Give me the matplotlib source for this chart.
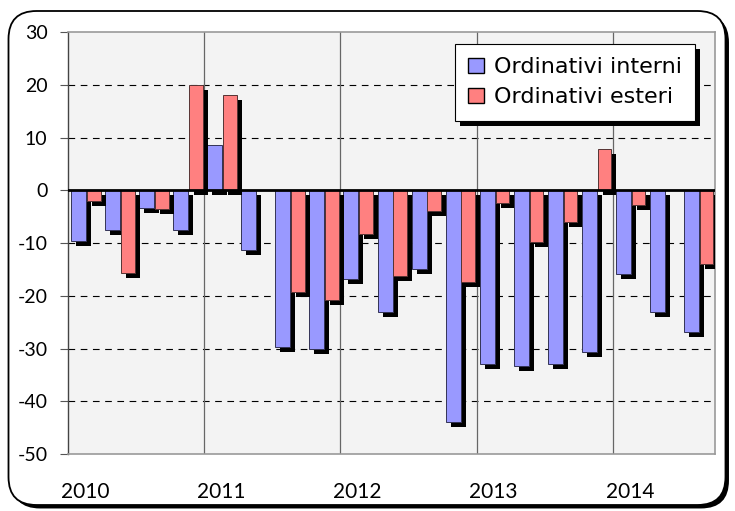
import matplotlib
matplotlib.use("Agg")
import matplotlib.pyplot as plt
import matplotlib.patheffects as pe
from matplotlib.patches import FancyBboxPatch
import numpy as np

# Data (quarterly, 2010Q1 - 2014Q3)
quarters = ["2010Q1", "2010Q2", "2010Q3", "2010Q4",
            "2011Q1", "2011Q2", "2011Q3", "2011Q4",
            "2012Q1", "2012Q2", "2012Q3", "2012Q4",
            "2013Q1", "2013Q2", "2013Q3", "2013Q4",
            "2014Q1", "2014Q2", "2014Q3"]
interni = [-9.7, -7.5, -3.3, -7.5,
           8.5, -11.3, -29.8, -30.1,
           -16.9, -23.1, -15.0, -44.0,
           -32.9, -33.3, -32.9, -30.7,
           -15.8, -23.1, -26.9]
esteri = [-2.1, -15.7, -3.6, 20.0,
          18.1, 0.0, -19.2, -20.8,
          -8.2, -16.3, -4.0, -17.4,
          -2.5, -9.8, -6.0, 7.8,
          -2.8, 0.0, -13.9]
year_labels = ["2010", "2011", "2012", "2013", "2014"]
y_ticks = [30, 20, 10, 0, -10, -20, -30, -40, -50]

W, H = 735, 511
fig = plt.figure(figsize=(W / 100, H / 100), dpi=100)
fig.patch.set_facecolor("white")

# outer rounded frame with shadow
frame = FancyBboxPatch((0.085, 0.06), 7.17, 4.94,
                       boxstyle="round,pad=0,rounding_size=0.28",
                       transform=fig.dpi_scale_trans, facecolor="white",
                       edgecolor="black", linewidth=1.3, zorder=-5)
frame.set_path_effects([pe.SimplePatchShadow(offset=(2.5, -2.5), shadow_rgbFace="black", alpha=1.0),
                        pe.Normal()])
fig.patches.append(frame)

ax = fig.add_axes([68 / W, 1 - 454 / H, (715 - 68) / W, (454 - 32) / H])
ax.set_zorder(1)
ax.set_facecolor("#F3F3F3")

x = np.arange(len(quarters))
shadow = [pe.SimplePatchShadow(offset=(3.6, -3.6), shadow_rgbFace="black", alpha=1.0), pe.Normal()]
b1 = ax.bar(x - 0.19, interni, width=0.44, color="#9999FF", edgecolor="#333355",
            linewidth=0.7, zorder=3, label="Ordinativi interni")
b2 = ax.bar(x + 0.255, esteri, width=0.40, color="#FF8080", edgecolor="#553333",
            linewidth=0.7, zorder=3, label="Ordinativi esteri")
for b in list(b1) + list(b2):
    if b.get_height() != 0:
        b.set_path_effects(shadow)
    else:
        b.set_visible(False)

ax.set_xlim(-0.5, len(quarters) - 0.5)
ax.set_ylim(-50, 30)

# gridlines
for yv in y_ticks:
    if yv in (30, -50, 0):
        continue
    ax.axhline(yv, color="black", linewidth=0.8, linestyle=(0, (6, 5)), zorder=1)
for xv in [3.5, 7.5, 11.5, 15.5]:
    ax.axvline(xv, color="#666666", linewidth=0.9, zorder=1)
ax.axhline(0, color="black", linewidth=2.0, zorder=5)

ax.set_yticks(y_ticks)
ax.set_yticklabels([str(v) for v in y_ticks], fontsize=14, family="Lato")
ax.tick_params(axis="y", length=5.8, width=0.8, color="#555555", pad=9)
ax.set_xticks(np.arange(0, len(quarters), 4))
ax.set_xticklabels(year_labels, fontsize=15, family="Lato")
ax.tick_params(axis="x", length=0, pad=20)

for s in ["top", "right", "bottom"]:
    ax.spines[s].set_color("#999999")
    ax.spines[s].set_linewidth(1.2)
ax.spines["left"].set_color("#444444")
ax.spines["left"].set_linewidth(1.0)

leg = ax.legend(loc="upper right", bbox_to_anchor=(0.969, 0.9716), borderaxespad=0,
                frameon=True, fancybox=False, edgecolor="black", framealpha=1,
                prop={"family": "DejaVu Sans", "size": 16}, handlelength=0.7,
                handleheight=0.7, handletextpad=0.45, borderpad=0.6, labelspacing=0.45)
leg.get_frame().set_linewidth(0.8)
leg.get_frame().set_path_effects([pe.SimplePatchShadow(offset=(3.6, -3.6), shadow_rgbFace="black", alpha=1.0),
                                  pe.Normal()])
for h in leg.legend_handles:
    h.set_path_effects([])
    h.set_edgecolor("black")
    h.set_linewidth(1.0)
leg.set_zorder(10)

fig.savefig("out.png", dpi=100)
